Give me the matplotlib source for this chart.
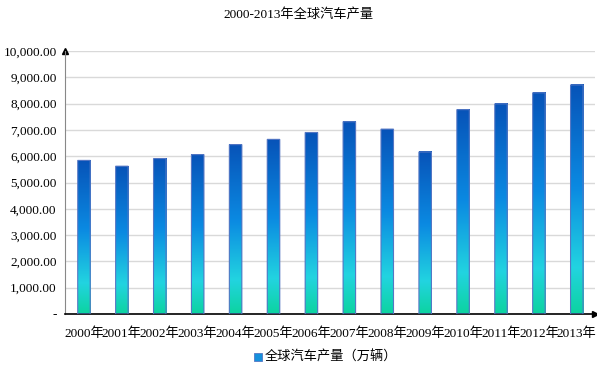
import numpy as np
import matplotlib.pyplot as plt
from matplotlib.colors import LinearSegmentedColormap
from matplotlib.patches import Rectangle

years = ['2000年', '2001年', '2002年', '2003年', '2004年', '2005年', '2006年',
         '2007年', '2008年', '2009年', '2010年', '2011年', '2012年', '2013年']
output = [5840, 5620, 5910, 6060, 6440, 6640, 6900,
          7310, 7030, 6160, 7770, 7990, 8410, 8710]
yticks = [0, 1000, 2000, 3000, 4000, 5000, 6000, 7000, 8000, 9000, 10000]
ytick_labels = ['-'] + ['{:,.2f}'.format(v) for v in yticks[1:]]

fonts = ['Liberation Serif', 'Noto Sans CJK SC']
plt.rcParams['font.family'] = fonts

grad = LinearSegmentedColormap.from_list(
    'g', [(0.0, '#0cd3a0'), (0.2, '#22d4e0'), (0.55, '#0b8ae2'), (1.0, '#0753b8')])

fig = plt.figure(figsize=(5.97, 3.68), dpi=100)
ax = fig.add_axes([65 / 597, 1 - 314 / 368, 530 / 597, 263 / 368])

x = np.arange(len(years))
w = 0.33
bars = ax.bar(x, output, width=w, color='none', edgecolor='#5577c4', linewidth=0.8, zorder=3)
g = np.linspace(0, 1, 256).reshape(-1, 1)
for b in bars:
    b.set_snap(False)
    x0, h = b.get_x(), b.get_height()
    ax.imshow(g, cmap=grad, origin='lower', aspect='auto',
              extent=[x0, x0 + w, 0, h], zorder=2)

ax.set_xlim(-0.5, 13.48)
ax.set_ylim(0, 10000)
ax.set_yticks(yticks)
ax.set_yticklabels(ytick_labels, fontsize=9.5)
ax.set_xticks(x)
ax.set_xticklabels(years, fontsize=9.5)
ax.tick_params(length=0, pad=6)
ax.tick_params(axis='x', pad=10)
ax.grid(axis='y', color='#d9d9d9', linewidth=1, zorder=0)
for s in ['top', 'right']:
    ax.spines[s].set_visible(False)
ax.spines['left'].set_color('#888888')
ax.spines['bottom'].set_color('black')
ax.spines['bottom'].set_linewidth(1.2)
ax.plot(0, 1, '^', color='black', markersize=5, transform=ax.transAxes, clip_on=False)
ax.plot(1, 0, '>', color='black', markersize=5, transform=ax.transAxes, clip_on=False)

fig.text(0.5, 1 - 14 / 368, '2000-2013年全球汽车产量', ha='center', va='center', fontsize=9.5)

# legend
lx, ly = 258 / 597, 1 - 357 / 368
fig.patches.append(Rectangle((lx - 4 / 597, ly - 4 / 368), 8 / 597, 8 / 368,
                             transform=fig.transFigure, facecolor='#1590dc',
                             edgecolor='#5577c4', linewidth=0.6))
fig.text(lx + 7 / 597, ly, '全球汽车产量（万辆）', ha='left', va='center', fontsize=9.5)

fig.savefig('out.png', dpi=100)
